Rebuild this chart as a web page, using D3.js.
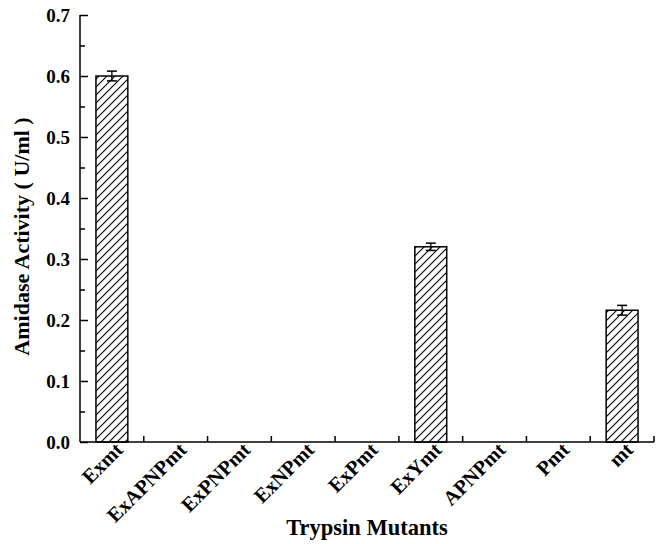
<!DOCTYPE html>
<html>
<head>
<meta charset="utf-8">
<script src="https://cdn.jsdelivr.net/npm/d3@7"></script>
<style>
body { margin: 0; background: #fff; }
svg text { font-family: "Liberation Serif", "Times New Roman", serif; font-weight: bold; fill: #000; }
</style>
</head>
<body>
<svg id="chart" width="665" height="544"></svg>
<script>
var categories = ["Exmt", "ExAPNPmt", "ExPNPmt", "ExNPmt", "ExPmt", "ExYmt", "APNPmt", "Pmt", "mt"];
var activity = [0.600, 0, 0, 0, 0, 0.320, 0, 0, 0.216];
var errors = [0.008, 0, 0, 0, 0, 0.006, 0, 0, 0.008];
var yTicks = [0, 0.1, 0.2, 0.3, 0.4, 0.5, 0.6, 0.7];
var yMinorTicks = [0.05, 0.15, 0.25, 0.35, 0.45, 0.55, 0.65];

var margin = {left: 80, right: 11, top: 15, bottom: 102};
var svg = d3.select("#chart");
var width = 665 - margin.left - margin.right;
var height = 544 - margin.top - margin.bottom;

var defs = svg.append("defs");
defs.append("pattern")
	.attr("id", "hatch")
	.attr("patternUnits", "userSpaceOnUse")
	.attr("width", 8)
	.attr("height", 8)
	.append("path")
	.attr("d", "M-2,2 l4,-4 M0,8 l8,-8 M6,10 l4,-4")
	.attr("stroke", "#000")
	.attr("stroke-width", 1.1);

var g = svg.append("g").attr("transform", "translate(" + margin.left + "," + margin.top + ")");

var x = d3.scaleBand().domain(categories).range([0, width]).paddingInner(0).paddingOuter(0);
var y = d3.scaleLinear().domain([0, 0.7]).range([height, 0]);

var data = categories.map(function(c, i){
	return {name: c, value: activity[i], err: errors[i]};
});
var withBars = data.filter(function(d){ return d.value > 0; });
var barW = x.bandwidth() / 2;

// bars
g.selectAll("rect.bar")
	.data(withBars)
	.enter()
	.append("rect")
	.classed("bar", true)
	.attr("x", function(d){ return x(d.name) + (x.bandwidth() - barW) / 2; })
	.attr("y", function(d){ return y(d.value); })
	.attr("width", barW)
	.attr("height", function(d){ return height - y(d.value); })
	.attr("fill", "url(#hatch)")
	.attr("stroke", "#000")
	.attr("stroke-width", 1.5);

// error bars
var eb = g.selectAll("g.err")
	.data(withBars)
	.enter()
	.append("g")
	.classed("err", true)
	.attr("transform", function(d){ return "translate(" + (x(d.name) + x.bandwidth() / 2) + ",0)"; });
eb.append("line")
	.attr("y1", function(d){ return y(d.value - d.err); })
	.attr("y2", function(d){ return y(d.value + d.err); })
	.attr("stroke", "#000").attr("stroke-width", 1.3);
eb.append("line")
	.attr("x1", -5).attr("x2", 5)
	.attr("y1", function(d){ return y(d.value + d.err); })
	.attr("y2", function(d){ return y(d.value + d.err); })
	.attr("stroke", "#000").attr("stroke-width", 1.5);
eb.append("line")
	.attr("x1", -5).attr("x2", 5)
	.attr("y1", function(d){ return y(d.value - d.err); })
	.attr("y2", function(d){ return y(d.value - d.err); })
	.attr("stroke", "#000").attr("stroke-width", 1.5);

// y axis
var yAxis = g.append("g")
	.call(d3.axisLeft(y).tickValues(yTicks).tickFormat(d3.format(".1f")).tickSize(-8).tickPadding(10));
yAxis.selectAll("text").style("font-size", "19px");
yAxis.select(".domain").attr("stroke-width", 1.5).attr("d", "M0," + height + "V0");
yAxis.selectAll(".tick line").attr("stroke-width", 1.5);
g.append("g")
	.call(d3.axisLeft(y).tickValues(yMinorTicks).tickSize(-5).tickFormat(""))
	.call(function(s){ s.select(".domain").remove(); })
	.selectAll(".tick line").attr("stroke-width", 1.5);

// x axis
var boundaries = d3.range(1, categories.length + 1).map(function(i){ return i * x.step(); });
var xAxis = g.append("g").attr("transform", "translate(0," + height + ")");
xAxis.append("line")
	.attr("x1", 0).attr("x2", width)
	.attr("stroke", "#000").attr("stroke-width", 1.5);
xAxis.selectAll("line.tick")
	.data(boundaries)
	.enter()
	.append("line")
	.classed("tick", true)
	.attr("x1", function(d){ return d; })
	.attr("x2", function(d){ return d; })
	.attr("y1", 0).attr("y2", -6)
	.attr("stroke", "#000").attr("stroke-width", 1.5);
xAxis.selectAll("text.xlab")
	.data(categories)
	.enter()
	.append("text")
	.classed("xlab", true)
	.attr("text-anchor", "end")
	.attr("transform", function(d){
		return "translate(" + (x(d) + x.bandwidth() / 2 + 2) + ",-1) rotate(-45)";
	})
	.attr("dy", "0.7em")
	.style("font-size", "20.5px")
	.text(function(d){ return d; });

// axis titles
svg.append("text")
	.attr("x", margin.left + width / 2)
	.attr("y", 535)
	.attr("text-anchor", "middle")
	.style("font-size", "22.5px")
	.text("Trypsin Mutants");
svg.append("text")
	.attr("transform", "translate(29," + (margin.top + height / 2 + 8) + ") rotate(-90)")
	.attr("text-anchor", "middle")
	.style("font-size", "22px")
	.text("Amidase Activity ( U/ml )");
</script>
</body>
</html>
